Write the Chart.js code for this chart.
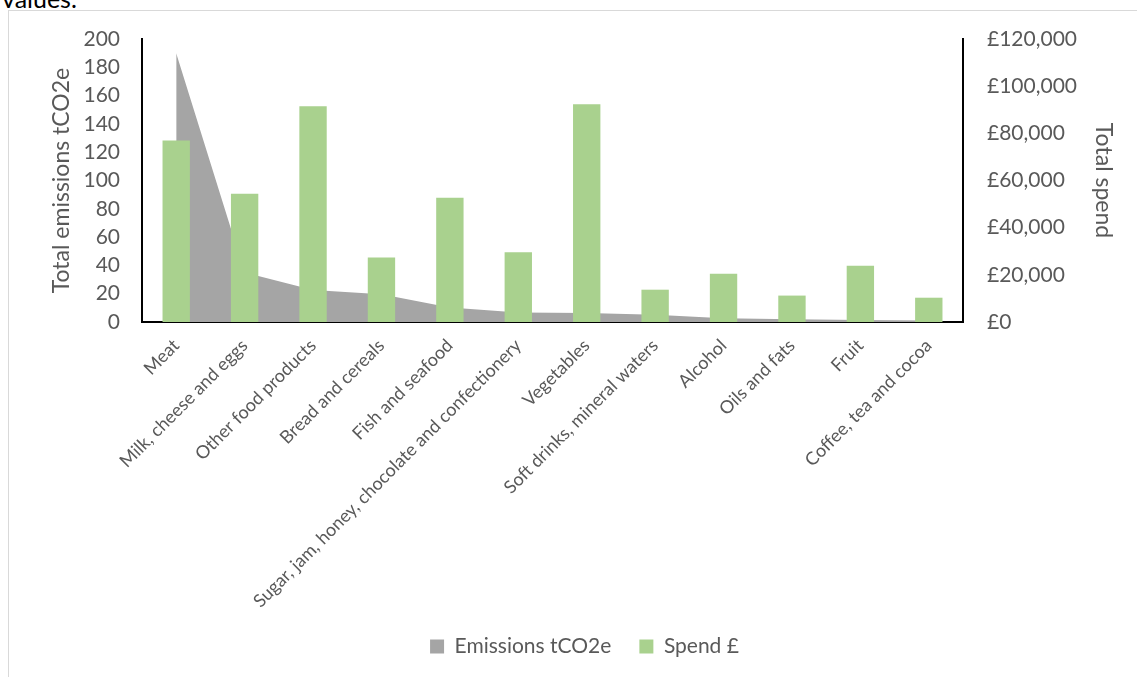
<!DOCTYPE html>
<html>
<head>
<meta charset="utf-8">
<script src="https://cdn.jsdelivr.net/npm/chart.js@4/dist/chart.umd.min.js"></script>
<style>
  body{margin:0;background:#fff;overflow:hidden;}
  #wrap{position:relative;width:1137px;height:677px;overflow:hidden;}
  #frame{position:absolute;left:8px;top:10px;width:1140px;height:680px;border:1px solid #d9d9d9;box-sizing:border-box;}
  #cut{position:absolute;left:2px;top:-17px;font-family:Lato,sans-serif;font-size:25px;color:#000;}
  canvas{position:absolute;left:0;top:0;}
</style>
</head>
<body>
<div id="wrap">
  <div id="cut">values.</div>
  <div id="frame"></div>
  <!-- canvas runs past the right edge so the legend centres on the full frame -->
  <canvas id="myChart" width="1169" height="677"></canvas>
</div>
<script>
'use strict';
let categories=['Meat','Milk, cheese and eggs','Other food products','Bread and cereals','Fish and seafood',
  'Sugar, jam, honey, chocolate and confectionery','Vegetables','Soft drinks, mineral waters','Alcohol',
  'Oils and fats','Fruit','Coffee, tea and cocoa'];
let emissions=[190,35,22.6,19.6,10.2,6.7,6.4,5.2,2.6,2.0,1.5,1.0];
let spend=[77000,54400,91500,27400,52700,29600,92300,13700,20500,11200,23800,10300];
let leftTicks=[0,20,40,60,80,100,120,140,160,180,200];
let rightTicks=[0,20000,40000,60000,80000,100000,120000];

let textColor='#595959';
let font='Lato, sans-serif';

function fixWidth(w){
  return function(scale){ scale.width=w; };
}

let ctx=document.getElementById('myChart');
let myChart=new Chart(ctx,{
  type:'bar',
  data:{
    labels:categories,
    datasets:[{
      type:'line',
      label:'Emissions tCO2e',
      data:emissions,
      yAxisID:'yLeft',
      fill:'origin',
      backgroundColor:'#a5a5a5',
      borderColor:'#a5a5a5',
      borderWidth:0,
      pointRadius:0,
      tension:0,
      order:2
    },{
      label:'Spend £',
      data:spend,
      yAxisID:'yRight',
      backgroundColor:'#a9d18e',
      borderWidth:0,
      barPercentage:0.8,
      categoryPercentage:0.5,
      order:1
    }]
  },
  options:{
    responsive:false,
    animation:false,
    layout:{padding:{top:39,left:0,right:0,bottom:10}},
    plugins:{
      tooltip:{enabled:false},
      legend:{
        position:'bottom',
        labels:{
          color:textColor,
          font:{family:font,size:21},
          boxWidth:14,
          boxHeight:14,
          padding:28,
          generateLabels:function(chart){
            return chart.data.datasets.map(function(ds,i){
              return {text:ds.label,fillStyle:ds.backgroundColor,strokeStyle:ds.backgroundColor,lineWidth:0,datasetIndex:i,fontColor:textColor};
            });
          }
        }
      }
    },
    scales:{
      x:{
        grid:{display:false},
        border:{display:true,color:'#000',width:2},
        ticks:{color:textColor,font:{family:font,size:18},maxRotation:45,minRotation:45,autoSkip:false,padding:5},
        afterFit:function(scale){ scale.height=286; }
      },
      yLeft:{
        position:'left',
        min:0,max:200,
        grid:{display:false},
        border:{display:true,color:'#000',width:2},
        afterBuildTicks:function(scale){ scale.ticks=leftTicks.map(function(v){return {value:v};}); },
        ticks:{color:textColor,font:{family:font,size:21},padding:14},
        title:{display:true,text:'Total emissions tCO2e',color:textColor,font:{family:font,size:23},padding:{top:48,bottom:0}},
        afterFit:fixWidth(142)
      },
      yRight:{
        position:'right',
        min:0,max:120000,
        grid:{display:false},
        border:{display:true,color:'#000',width:2},
        afterBuildTicks:function(scale){ scale.ticks=rightTicks.map(function(v){return {value:v};}); },
        ticks:{color:textColor,font:{family:font,size:21},padding:16,
          callback:function(v){ return '£'+v.toLocaleString('en-GB'); }},
        title:{display:true,text:'Total spend',color:textColor,font:{family:font,size:23},padding:{top:52,bottom:0}},
        afterFit:fixWidth(206)
      }
    }
  }
});
</script>
</body>
</html>
